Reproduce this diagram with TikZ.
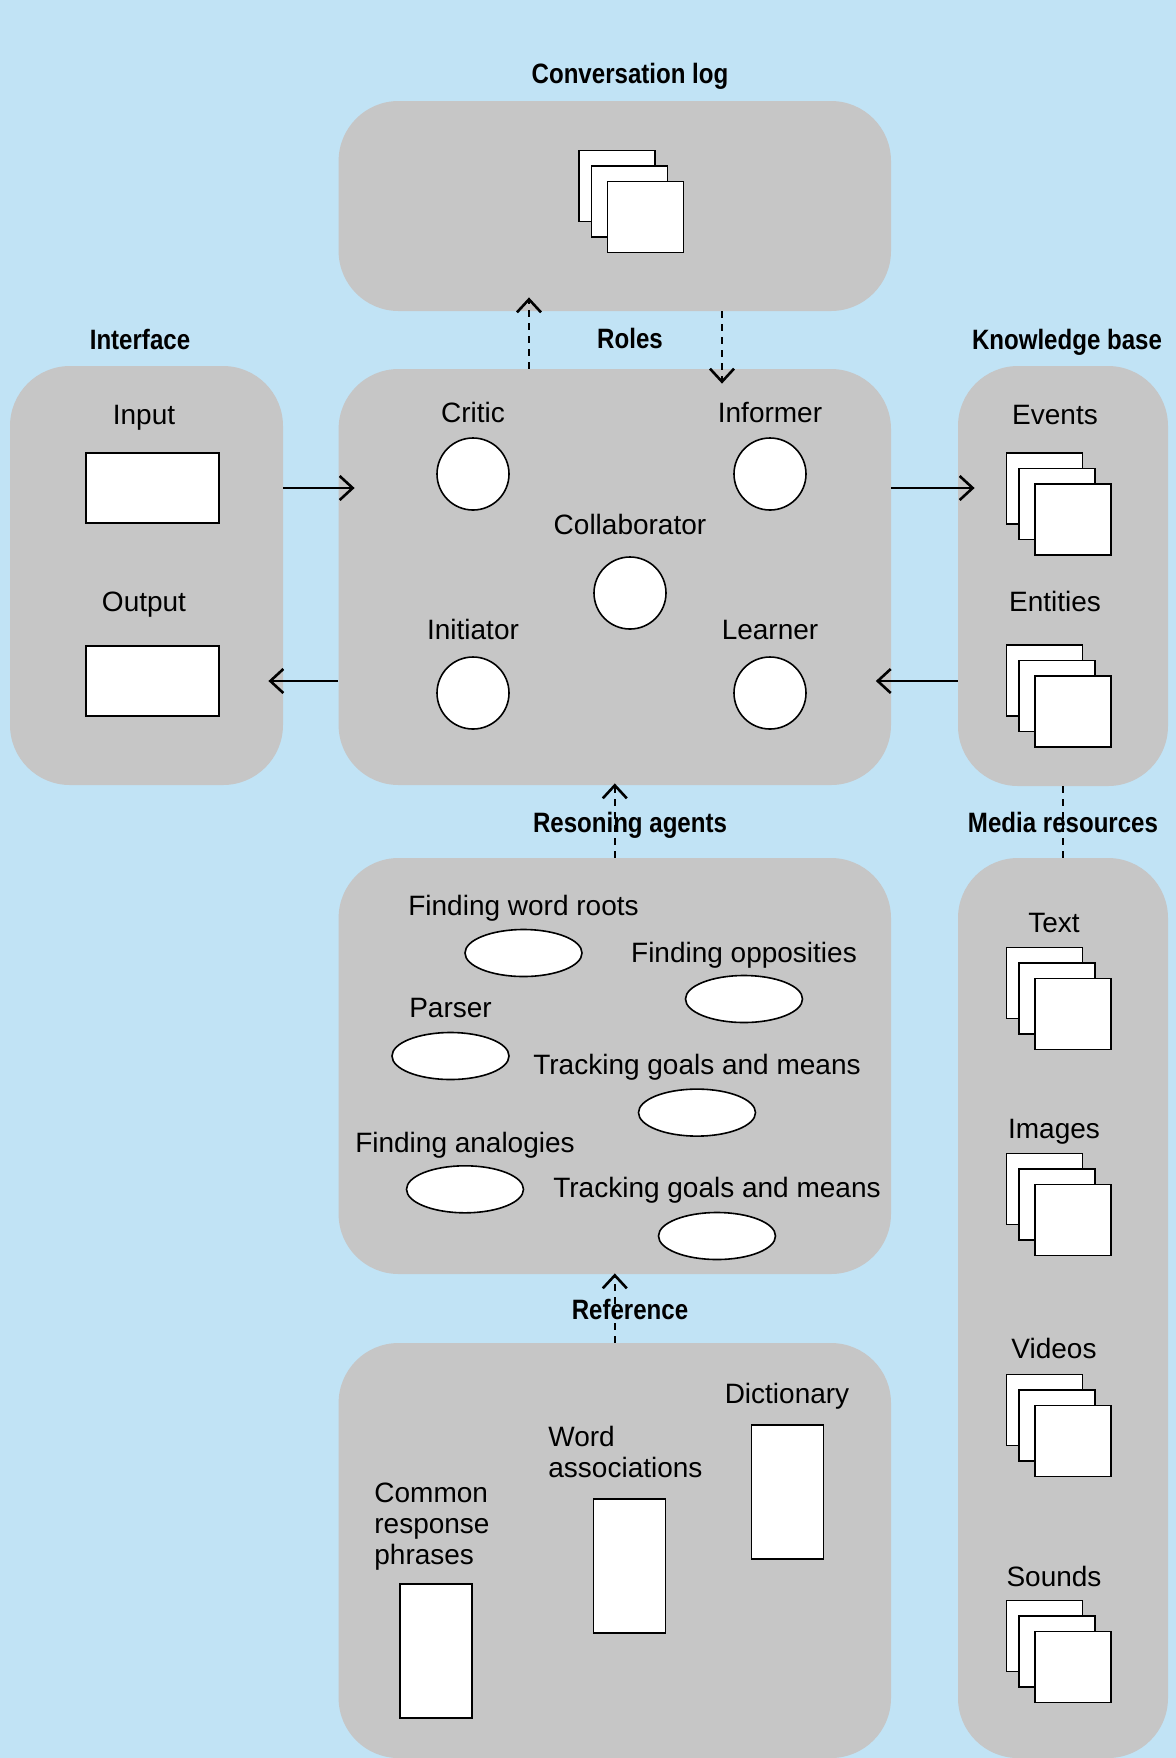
\documentclass[tikz,border=0pt]{standalone}
\usepackage{fontspec}
\setmainfont{Liberation Sans}
\newfontfamily\headfont{Liberation Sans}[FakeStretch=0.86]
\usepackage{tikz}
\usetikzlibrary{shapes.geometric}
\usetikzlibrary{arrows.meta}
\usetikzlibrary{positioning}
\definecolor{skyblue}{RGB}{193,227,245}
\definecolor{panelgray}{RGB}{198,198,198}

\begin{document}
\begin{tikzpicture}[x=0.5pt,y=-0.5pt,
	panel/.style={rectangle, fill=panelgray, rounded corners=30pt, inner sep=0pt},
	head/.style={font=\headfont\bfseries\fontsize{14}{16}\selectfont, anchor=base, inner sep=0pt},
	lbl/.style={font=\fontsize{14}{15.5}\selectfont, anchor=base, inner sep=0pt, text depth=0pt},
	role node/.style={circle, draw, fill=white, line width=0.8pt, minimum size=36pt, inner sep=0pt},
	agent node/.style={ellipse, draw, fill=white, line width=0.8pt, minimum width=58.5pt, minimum height=23.5pt, inner sep=0pt},
	sheet/.style={rectangle, draw, fill=white, line width=0.8pt, inner sep=0pt, minimum width=38pt, minimum height=35.5pt},
	flow/.style={-{Straight Barb[length=6.5pt,width=12pt]}, line width=1.3pt},
	link/.style={flow, dash pattern=on 3.5pt off 3pt}]
			
			\useasboundingbox (0,0) rectangle (1176,1758);
			\fill[skyblue] (0,0) rectangle (1176,1758);
			
			\node[panel, minimum width=276.2pt, minimum height=105pt] (log) at (614.8,206) {};
			\node[panel, minimum width=136.5pt, minimum height=209.5pt] (iface) at (146.5,575.5) {};
			\node[panel, minimum width=276.2pt, minimum height=208pt] (roles) at (614.8,577) {};
			\node[panel, minimum width=105pt, minimum height=210pt] (kb) at (1063,576) {};
			\node[panel, minimum width=276.2pt, minimum height=208pt] (agents) at (614.8,1066) {};
			\node[panel, minimum width=276.2pt, minimum height=207.5pt] (refs) at (614.8,1550.5) {};
			\node[panel, minimum width=105pt, minimum height=450pt] (media) at (1063,1308) {};
			
			\node[head] (h1) at (630,83) {Conversation log};
			\node[head] (h2) at (140,349) {Interface};
			\node[head] (h3) at (630,348) {Roles};
			\node[head] (h4) at (1067,349) {Knowledge base};
			\node[head] (h5) at (630,832) {Resoning agents};
			\node[head] (h6) at (1063,832) {Media resources};
			\node[head] (h7) at (630,1319) {Reference};
			
			\foreach \n/\x/\y in {log/645.5/217, ev/1073/519.5, ent/1073/711.5, txt/1073/1014, img/1073/1220, vid/1073/1441, snd/1073/1667} {
				\node[sheet] (\n-1) at (\x-28.5,\y-31) {};
				\node[sheet] (\n-2) at (\x-16,\y-15.5) {};
				\node[sheet] (\n-3) at (\x,\y) {};
			}
			
			\node[lbl] (l-ev) at (1055,424) {Events};
			\node[lbl] (l-ent) at (1055,611) {Entities};
			\node[lbl] (l-txt) at (1054,932) {Text};
			\node[lbl] (l-img) at (1054,1138) {Images};
			\node[lbl] (l-vid) at (1054,1358) {Videos};
			\node[lbl] (l-snd) at (1054,1586) {Sounds};
			
			\node[sheet, minimum width=66.5pt, minimum height=35pt] (input) at (152.5,488) {};
			\node[sheet, minimum width=66.5pt, minimum height=35pt] (output) at (152.5,681) {};
			\node[lbl] (l-in) at (144,424) {Input};
			\node[lbl] (l-out) at (144,611.7) {Output};
			
			\node[role node] (1) at (473,474) {};
			\node[role node] (2) at (770,474) {};
			\node[role node] (3) at (630,593) {};
			\node[role node] (4) at (473,693) {};
			\node[role node] (5) at (770,693) {};
			\node[lbl, above=7pt of 1] {Critic};
			\node[lbl, above=7pt of 2] {Informer};
			\node[lbl, above=10.5pt of 3] {Collaborator};
			\node[lbl, above=8pt of 4] {Initiator};
			\node[lbl, above=8pt of 5] {Learner};
			
			\node[agent node] (e1) at (523.5,953) {};
			\node[agent node] (e2) at (744,999) {};
			\node[agent node] (e3) at (450.5,1056) {};
			\node[agent node] (e4) at (697,1112.6) {};
			\node[agent node] (e5) at (465,1189.3) {};
			\node[agent node] (e6) at (717,1236) {};
			\node[lbl, above=6.5pt of e1] {Finding word roots};
			\node[lbl, above=6pt of e2] {Finding opposities};
			\node[lbl, above=7pt of e3] {Parser};
			\node[lbl, above=6.5pt of e4] {Tracking goals and means};
			\node[lbl, above=6pt of e5] {Finding analogies};
			\node[lbl, above=7pt of e6] {Tracking goals and means};
			
			\node[sheet, minimum width=36pt, minimum height=67pt] (crp) at (436,1651) {};
			\node[sheet, minimum width=36pt, minimum height=67pt] (wa) at (629.5,1566) {};
			\node[sheet, minimum width=36pt, minimum height=67pt] (dict) at (787.4,1492) {};
			\node[lbl, anchor=north west, align=left] (l-crp) at (374,1483) {Common\\response\\phrases};
			\node[lbl, anchor=north west, align=left] (l-wa) at (548,1425.5) {Word\\associations};
			\node[lbl] (l-dict) at (787,1403) {Dictionary};
			
			\draw[flow, shorten >=-8.2pt] (input -| iface.east) -- (input -| roles.west);
			\draw[flow, shorten >=-7.5pt] (output -| roles.west) -- (output -| iface.east);
			\draw[flow, shorten >=-8.5pt] (input -| roles.east) -- (input -| kb.west);
			\draw[flow, shorten >=-7.8pt] (output -| kb.west) -- (output -| roles.east);
			
			\draw[link, shorten >=-7pt] ([xshift=-42.9pt]roles.north) -- ([xshift=-42.9pt]log.south);
			\draw[link, shorten >=-7.5pt] ([xshift=53.6pt]log.south) -- ([xshift=53.6pt]roles.north);
			\draw[link, shorten >=-1pt] (agents.north) -- (roles.south);
			\draw[link, shorten >=-0.5pt] (refs.north) -- (agents.south);
			\draw[line width=1.3pt, dash pattern=on 3.5pt off 3pt] (kb.south) -- (media.north);
			
		\end{tikzpicture}
\end{document}
